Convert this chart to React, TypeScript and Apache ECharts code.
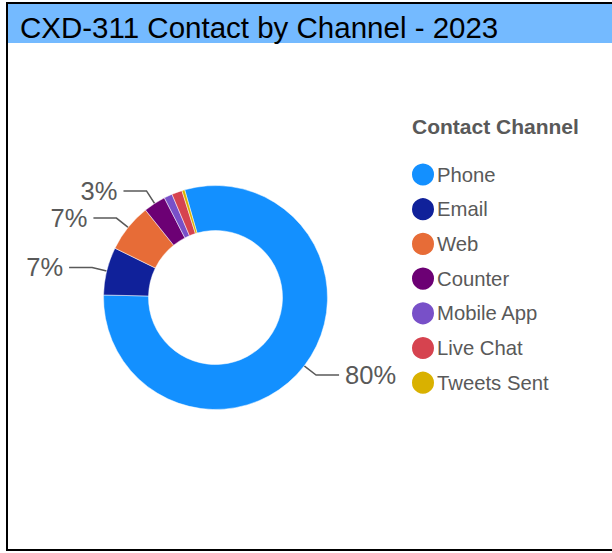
import React, { useEffect, useRef } from "react";
import * as echarts from "echarts";

const channels = ["Phone", "Email", "Web", "Counter", "Mobile App", "Live Chat", "Tweets Sent"];
const contactShare = [79.8, 6.9, 7.0, 3.2, 1.2, 1.5, 0.4];
const channelColors = ["#1390FF", "#10219A", "#E76C37", "#6C0074", "#7850C8", "#D6434F", "#D9B100"];
const chartTitle = "CXD-311 Contact by Channel - 2023";
const legendTitle = "Contact Channel";

export default function App() {
  const ref = useRef<HTMLDivElement>(null);
  useEffect(() => {
    document.body.style.margin = "0";
    const chart = echarts.init(ref.current!, null, { renderer: "svg" });
    const total = contactShare.reduce((a, b) => a + b, 0);
    const data = channels.map((name, i) => {
      const pct = (contactShare[i] / total) * 100;
      return {
        name,
        value: contactShare[i],
        itemStyle: { color: channelColors[i] },
        label: { show: pct >= 3 },
        labelLine: { show: pct >= 3 },
      };
    });
    chart.setOption({
      animation: false,
      backgroundColor: "#ffffff",
      title: [
        {
          text: chartTitle,
          left: 20,
          top: 12,
          padding: 0,
          textStyle: { fontFamily: "Liberation Sans", fontSize: 29.5, fontWeight: "normal", color: "#000000" },
        },
        {
          text: legendTitle,
          left: 412,
          top: 116,
          padding: 0,
          textStyle: { fontFamily: "Liberation Sans", fontSize: 21, fontWeight: "bold", color: "#595959" },
        },
      ],
      graphic: [
        {
          type: "rect",
          shape: { x: 8, y: 4, width: 610, height: 39 },
          style: { fill: "#74BAFF" },
          silent: true,
          z: -1,
        },
        {
          type: "rect",
          shape: { x: 7, y: 3, width: 620, height: 547 },
          style: { fill: "none", stroke: "#000000", lineWidth: 2 },
          silent: true,
          z: 100,
        },
      ],
      legend: {
        orient: "vertical",
        left: 410,
        top: 161.5,
        padding: 0,
        icon: "circle",
        itemWidth: 24,
        itemHeight: 24,
        itemGap: 8.7,
        textStyle: { fontFamily: "Liberation Sans", fontSize: 20.3, color: "#595959", padding: [0, 0, 0, -3] },
        data: channels,
      },
      series: [
        {
          type: "pie",
          center: [215.5, 297.5],
          radius: [67, 112],
          startAngle: 106,
          clockwise: true,
          avoidLabelOverlap: false,
          itemStyle: { borderColor: "#ffffff", borderWidth: 0.5 },
          label: {
            show: true,
            position: "outside",
            formatter: (p: any) => Math.round(p.percent) + "%",
            fontFamily: "Liberation Sans",
            fontSize: 25.5,
            color: "#595959",
            distanceToLabelLine: 6,
          },
          labelLine: {
            show: true,
            length: 15,
            length2: 23,
            lineStyle: { color: "#595959", width: 1.5 },
          },
          data,
        },
      ],
    });
    return () => chart.dispose();
  }, []);
  return <div ref={ref} style={{ width: 612, height: 553 }} />;
}
